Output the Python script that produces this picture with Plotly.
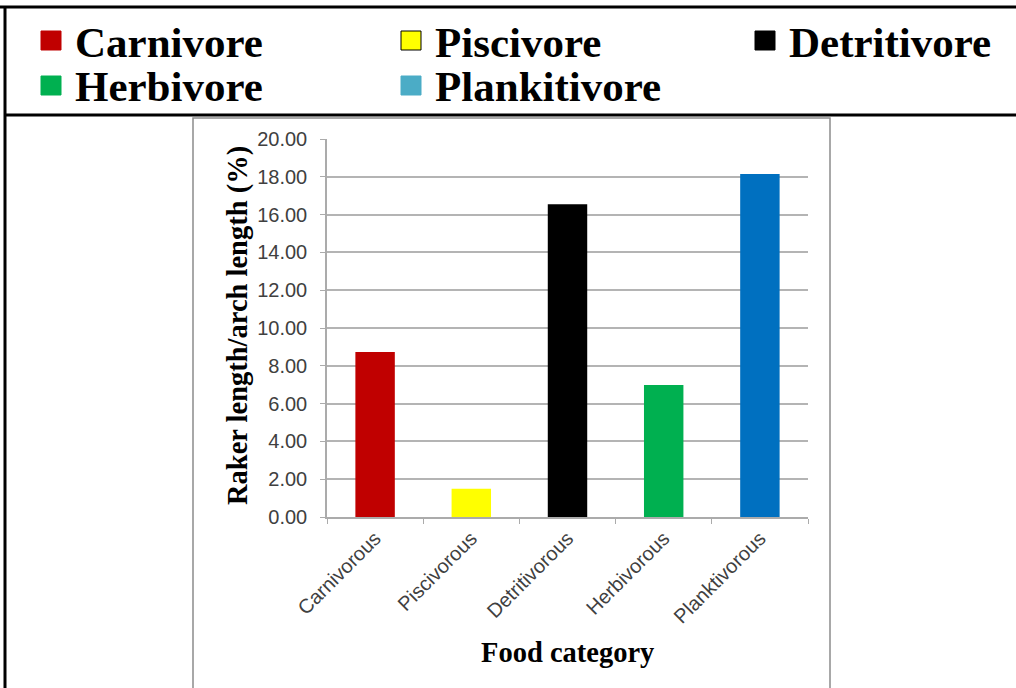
import plotly.graph_objects as go

# ---- data -------------------------------------------------------------
categories = ["Carnivorous", "Piscivorous", "Detritivorous", "Herbivorous", "Planktivorous"]
ratio_pct = [8.73, 1.50, 16.55, 6.98, 18.15]
bar_colors = ["#C00000", "#FFFF00", "#000000", "#00B050", "#0070C0"]

legend_names = ["Carnivore", "Piscivore", "Detritivore", "Herbivore", "Plankitivore"]
legend_colors = ["#C00000", "#FFFF00", "#000000", "#00B050", "#4BACC6"]

y_ticks = [0, 2, 4, 6, 8, 10, 12, 14, 16, 18, 20]

# ---- page geometry (pixels) -------------------------------------------
W, H = 1016, 688
PL, PR, PT, PB = 327, 808, 139, 517   # plot area edges


def px(x):
    return (x - PL) / (PR - PL)


def py(y):
    return (PB - y) / (PB - PT)


SERIF = "Liberation Serif, Times New Roman, serif"
SANS = "Liberation Sans, Arial, sans-serif"

fig = go.Figure()
fig.add_trace(go.Bar(
    x=categories,
    y=ratio_pct,
    marker=dict(color=bar_colors, line=dict(width=0)),
    width=0.41,
    showlegend=False,
))

shapes = []
annotations = []

# outer table frame: top rule, left rule and the rule under the legend row
shapes.append(dict(type="line", xref="paper", yref="paper",
                   x0=px(0), x1=px(W), y0=py(7), y1=py(7),
                   line=dict(color="#000000", width=3)))
shapes.append(dict(type="line", xref="paper", yref="paper",
                   x0=px(5), x1=px(W), y0=py(115), y1=py(115),
                   line=dict(color="#000000", width=3)))
shapes.append(dict(type="line", xref="paper", yref="paper",
                   x0=px(5), x1=px(5), y0=py(6), y1=py(H + 5),
                   line=dict(color="#000000", width=3)))

# chart frame
shapes.append(dict(type="rect", xref="paper", yref="paper",
                   x0=px(193), x1=px(830), y0=py(118), y1=py(H + 5),
                   line=dict(color="#8C8C8C", width=1.5), fillcolor="rgba(0,0,0,0)"))

# legend keys
key_pos = [(41, 41), (401, 41), (755, 41), (41, 86), (401, 86)]
for (kx, ky), name, col in zip(key_pos, legend_names, legend_colors):
    edge = "#000000" if col == "#FFFF00" else col
    shapes.append(dict(type="rect", xref="paper", yref="paper",
                       x0=px(kx), x1=px(kx + 20), y0=py(ky - 10), y1=py(ky + 9),
                       line=dict(color=edge, width=1), fillcolor=col))
    annotations.append(dict(xref="paper", yref="paper", x=px(kx + 32), y=py(ky + 1),
                            xanchor="left", yanchor="middle", showarrow=False,
                            text="<b>" + name + "</b>",
                            font=dict(family=SERIF, size=43, color="#000000")))

# axis titles
annotations.append(dict(xref="paper", yref="paper", x=px(238), y=py(326),
                        xanchor="center", yanchor="middle", showarrow=False,
                        textangle=-90,
                        text="<b>Raker length/arch length (%)</b>",
                        font=dict(family=SERIF, size=28.5, color="#000000")))
annotations.append(dict(xref="paper", yref="paper", x=px(567), y=py(652),
                        xanchor="center", yanchor="middle", showarrow=False,
                        text="<b>Food category</b>",
                        font=dict(family=SERIF, size=28.5, color="#000000")))

fig.update_layout(
    width=W, height=H,
    margin=dict(l=PL, r=W - PR, t=PT, b=H - PB),
    paper_bgcolor="#FFFFFF", plot_bgcolor="#FFFFFF",
    shapes=shapes, annotations=annotations,
    bargap=0.59,
    xaxis=dict(
        type="category", range=[-0.5, 4.5],
        showline=True, linecolor="#ABABAB", linewidth=1.5,
        ticks="outside", tickson="boundaries", ticklen=5, tickcolor="#ABABAB",
        showgrid=False, tickangle=-45,
        tickfont=dict(family=SANS, size=20, color="#404040"),
    ),
    yaxis=dict(
        range=[0, 20], tickvals=y_ticks,
        ticktext=[f"{v:.2f}" for v in y_ticks],
        showline=True, linecolor="#ABABAB", linewidth=1.5,
        ticks="outside", ticklen=5, tickcolor="#ABABAB",
        showgrid=True, gridcolor="#B4B4B4", gridwidth=1.5,
        zeroline=False, ticklabelstandoff=9,
        tickfont=dict(family=SANS, size=20, color="#404040"),
    ),
)

fig.write_html("out.html")
